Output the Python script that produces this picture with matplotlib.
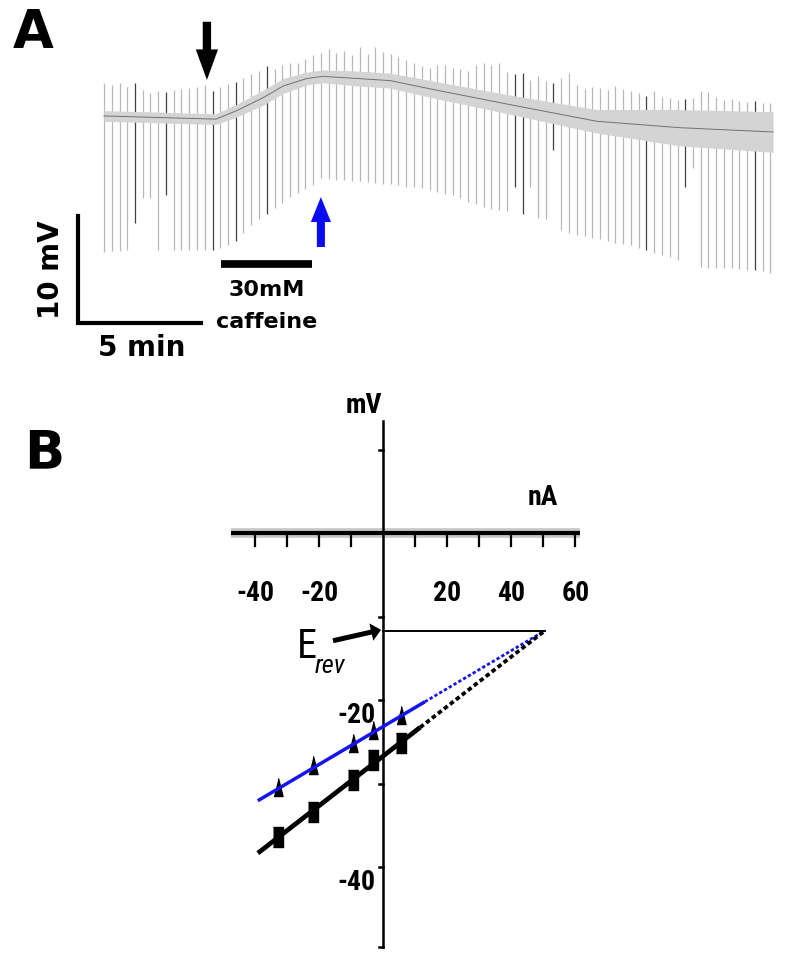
import numpy as np
import matplotlib as mpl
import matplotlib.pyplot as plt
import matplotlib.font_manager as fm

# ---------------------------------------------------------------
# Panel A data: membrane potential trace (time in s, potential in mV
# relative to the starting resting level)
baseline_t = [0, 273, 324, 388, 437, 495, 534, 617, 698, 812, 998, 1202, 1405, 1632]
baseline_v = [0.1, -0.2, 0.6, 1.8, 2.9, 3.6, 3.8, 3.6, 3.4, 2.5, 1.1, -0.4, -1.0, -1.4]
band_half = [0.5, 0.5, 0.6, 0.7, 0.7, 0.6, 0.6, 0.7, 0.7, 0.8, 0.9, 1.1, 1.7, 1.9]

spike_t = [0, 19, 38, 57, 76, 95, 113, 132, 151, 170,
           189, 208, 227, 246, 265, 284, 302, 321, 340, 359,
           378, 397, 416, 435, 454, 473, 491, 510, 529, 548,
           567, 586, 605, 624, 643, 662, 680, 699, 718, 737,
           756, 775, 794, 813, 832, 851, 869, 888, 907, 926,
           945, 964, 983, 1002, 1021, 1040, 1058, 1077, 1096, 1115,
           1134, 1153, 1172, 1191, 1210, 1229, 1247, 1266, 1285, 1304,
           1323, 1342, 1361, 1380, 1399, 1418, 1436, 1455, 1474, 1493,
           1512, 1531, 1550, 1569, 1588, 1607, 1625]
spike_min = [-12.6, -12.5, -12.5, -12.4, -9.9, -7.6, -7.6, -12.4, -7.3, -12.4,
             -12.4, -12.4, -12.4, -12.4, -12.4, -12.2, -12.0, -11.6, -10.8, -10.1,
             -9.5, -9.1, -8.5, -8.0, -7.5, -7.1, -6.7, -6.4, -5.7, -5.8,
             -5.9, -5.9, -6.0, -6.0, -6.1, -6.2, -6.3, -6.3, -6.4, -6.5,
             -6.5, -6.6, -6.8, -7.0, -7.2, -7.3, -7.6, -7.9, -8.1, -8.4,
             -8.6, -8.7, -8.8, -6.5, -9.1, -6.5, -9.4, -9.5, -3.1, -10.6,
             -10.8, -11.0, -11.1, -11.3, -11.4, -11.6, -11.8, -11.9, -12.0, -12.2,
             -12.4, -12.7, -12.9, -13.1, -13.4, -6.5, -4.8, -14.0, -14.1, -14.1,
             -14.1, -14.1, -14.2, -14.3, -14.3, -14.4, -14.6]
spike_max = [3.2, 3.0, 3.2, 2.8, 3.2, 2.5, 2.2, 2.4, 2.3, 2.5,
             2.6, 2.7, 2.8, 3.0, 2.4, 2.8, 3.1, 3.3, 3.6, 4.0,
             4.3, 4.8, 4.5, 4.9, 5.0, 5.0, 5.4, 5.8, 6.0, 6.4,
             6.0, 6.2, 5.8, 6.5, 5.9, 6.5, 6.1, 5.9, 5.6, 5.3,
             5.0, 4.8, 4.6, 4.9, 4.9, 4.6, 4.5, 4.3, 4.9, 5.0,
             4.9, 5.0, 4.2, 4.0, 4.1, 3.5, 3.8, 3.4, 3.2, 3.6,
             4.1, 3.0, 2.6, 2.8, 2.7, 2.5, 2.9, 2.6, 2.4, 2.2,
             2.0, 2.4, 1.9, 1.8, 1.6, 1.7, 1.8, 2.4, 2.3, 1.9,
             1.6, 1.7, 1.5, 1.4, 1.5, 1.3, 1.3]
dark_spikes = [4, 8, 14, 17, 21, 53, 54, 58, 70, 75, 84]

caffeine_t = [285, 507]          # s, bar under the trace
black_arrow_t = 251              # s
blue_arrow_t = 529               # s
scale_mv = 10
scale_min = 5

# Panel B data: I-V relation (nA, mV)
iv_current = [-33.0, -22.0, -9.5, -3.2, 5.5]
iv_ctrl = [-36.4, -33.4, -29.6, -27.2, -25.1]      # squares, black
iv_caff = [-30.4, -27.8, -25.1, -23.6, -21.8]      # triangles, blue
slope_ctrl = 0.297                                  # mV / nA
slope_caff = 0.227
erev_i = 50.5
erev_v = -11.7
fit_start = -39.2
solid_end_ctrl = 11.5
solid_end_caff = 13.0
xtick_vals = [-40, -30, -20, -10, 10, 20, 30, 40, 50, 60]
xtick_labels = [-40, -20, 20, 40, 60]
ytick_vals = [10, -10, -20, -30, -40, -49.6]
ytick_labels = [-20, -40]

# ---------------------------------------------------------------
avail = {f.name for f in fm.fontManager.ttflist}
narrow = next((n for n in ['Liberation Sans Narrow', 'DejaVu Sans Condensed',
                           'Roboto Condensed'] if n in avail), 'Liberation Sans')

W, H = 800, 967
fig = plt.figure(figsize=(W / 100, H / 100), dpi=100)


def px_axes(top, bottom):
    ax = fig.add_axes([0, 1 - bottom / H, 1, (bottom - top) / H])
    ax.set_axis_off()
    return ax


# ---------------- panel A ----------------
axA = px_axes(0, 380)
px_per_s = 123 / 300.0
px_per_mv = 10.7
t0_px, v0_py = 104, 117
axA.set_xlim(-t0_px / px_per_s, (W - t0_px) / px_per_s)
axA.set_ylim((v0_py - 380) / px_per_mv, v0_py / px_per_mv)

colors = ['#404040' if i in dark_spikes else '#b8b8b8' for i in range(len(spike_t))]
axA.vlines(spike_t, spike_min, spike_max, colors=colors, lw=0.9)
bl = np.array(baseline_v)
bh = np.array(band_half)
axA.fill_between(baseline_t, bl - bh, bl + bh, color='#d4d4d4', lw=0, zorder=3)
axA.plot(baseline_t, baseline_v, color='#707070', lw=0.7, zorder=4)

# caffeine bar and label
axA.plot(caffeine_t, [-13.7, -13.7], color='black', lw=5.5, solid_capstyle='butt')
cx = np.mean(caffeine_t)
axA.text(cx, -16.2, '30mM', ha='center', va='center', fontsize=16, fontweight='bold')
axA.text(cx, -19.2, 'caffeine', ha='center', va='center', fontsize=16, fontweight='bold')

# scale bars
sb_t = -26 / px_per_s
sb_v = (v0_py - 323) / px_per_mv
axA.plot([sb_t, sb_t, sb_t + scale_min * 60], [sb_v + scale_mv, sb_v, sb_v],
         color='black', lw=3, solid_joinstyle='miter')
axA.text(sb_t - 27 / px_per_s, sb_v + scale_mv / 2, '%d mV' % scale_mv, rotation=90,
         ha='center', va='center', fontsize=20, fontweight='bold')
axA.text(sb_t + 64 / px_per_s, sb_v - 2.3, '%d min' % scale_min,
         ha='center', va='center', fontsize=20, fontweight='bold')

# arrows
axA.annotate('', xy=(black_arrow_t, 3.46), xytext=(black_arrow_t, 8.9),
             arrowprops=dict(arrowstyle='simple,head_length=2.2,head_width=1.6,tail_width=0.6',
                             mutation_scale=10, fc='black', ec='none', shrinkA=0, shrinkB=0))
axA.annotate('', xy=(blue_arrow_t, -7.48), xytext=(blue_arrow_t, -12.15),
             arrowprops=dict(arrowstyle='simple,head_length=1.8,head_width=1.45,tail_width=0.58',
                             mutation_scale=10, fc='#0a0af5', ec='none', shrinkA=0, shrinkB=0))

fig.text(33 / W, 1 - 33 / H, 'A', ha='center', va='center', fontsize=38, fontweight='bold')
fig.text(44 / W, 1 - 453 / H, 'B', ha='center', va='center', fontsize=38, fontweight='bold')

# ---------------- panel B ----------------
axB = px_axes(380, H)
px_per_na = 3.2
px_per_mvB = 8.35
i0_px, vb0_py = 383.3, 533
axB.set_xlim(-i0_px / px_per_na, (W - i0_px) / px_per_na)
axB.set_ylim((vb0_py - H) / px_per_mvB, (vb0_py - 380) / px_per_mvB)

# axes drawn through origin
axB.plot([-47.6, 61.4], [0, 0], color='#c8c8c8', lw=7, solid_capstyle='butt', zorder=1)
axB.plot([-47.6, 61.4], [0, 0], color='black', lw=3, solid_capstyle='butt', zorder=2)
axB.plot([0, 0], [13.4, -49.6], color='black', lw=1.8, zorder=2)
for x in xtick_vals:
    axB.plot([x, x], [0, -1.55], color='black', lw=1.6, zorder=2)
for y in ytick_vals:
    axB.plot([-1.2, 0], [y, y], color='black', lw=1.8, zorder=2)

tfont = dict(family=[narrow, 'DejaVu Sans'], fontweight='bold', fontstretch='condensed')
for x in xtick_labels:
    axB.text(x, -7.2, '%d' % x, ha='center', va='center', fontsize=20, **tfont)
for y in ytick_labels:
    axB.text(-2.4, y - 1.8, '%d' % y, ha='right', va='center', fontsize=20, **tfont)
axB.text(-6.0, 15.3, 'mV', ha='center', va='center', fontsize=20, **tfont)
axB.text(50.0, 4.3, 'nA', ha='center', va='center', fontsize=20, **tfont)

# reversal potential
axB.plot([0, erev_i], [erev_v, erev_v], color='black', lw=1.4)
axB.text(-23.8, -13.6, 'E', ha='center', va='center', fontsize=29,
         family=[narrow, 'DejaVu Sans'], fontstretch='condensed')
axB.text(-21.4, -15.9, 'rev', ha='left', va='center', fontsize=19, style='italic',
         family=[narrow, 'DejaVu Sans'], fontstretch='condensed')
axB.annotate('', xy=(-0.7, -11.6), xytext=(-15.7, -12.9),
             arrowprops=dict(arrowstyle='simple,head_length=0.9,head_width=1.6,tail_width=0.45',
                             mutation_scale=8, fc='black', ec='none', shrinkA=0, shrinkB=0))

# fitted lines: solid over the data, dotted to the reversal point
for slope, end, col, lw in [(slope_caff, solid_end_caff, '#1414f0', 2.5),
                            (slope_ctrl, solid_end_ctrl, 'black', 3.4)]:
    xs = np.array([fit_start, end])
    axB.plot(xs, erev_v + slope * (xs - erev_i), color=col, lw=lw, solid_capstyle='butt', zorder=4)
    xd = np.array([end, erev_i])
    axB.plot(xd, erev_v + slope * (xd - erev_i), color=col, lw=lw * 0.8,
             linestyle=(0, (1.2, 0.8)), zorder=4)

tri = [(-0.5, -1), (0.5, -1), (0, 1)]
rect = [(-0.5, -1), (0.5, -1), (0.5, 1), (-0.5, 1)]
axB.plot(iv_current, iv_caff, linestyle='none', marker=tri, ms=13, color='black', zorder=3)
axB.plot(iv_current, iv_ctrl, linestyle='none', marker=rect, ms=14, color='black', zorder=5)

plt.savefig('out.png', dpi=100)
